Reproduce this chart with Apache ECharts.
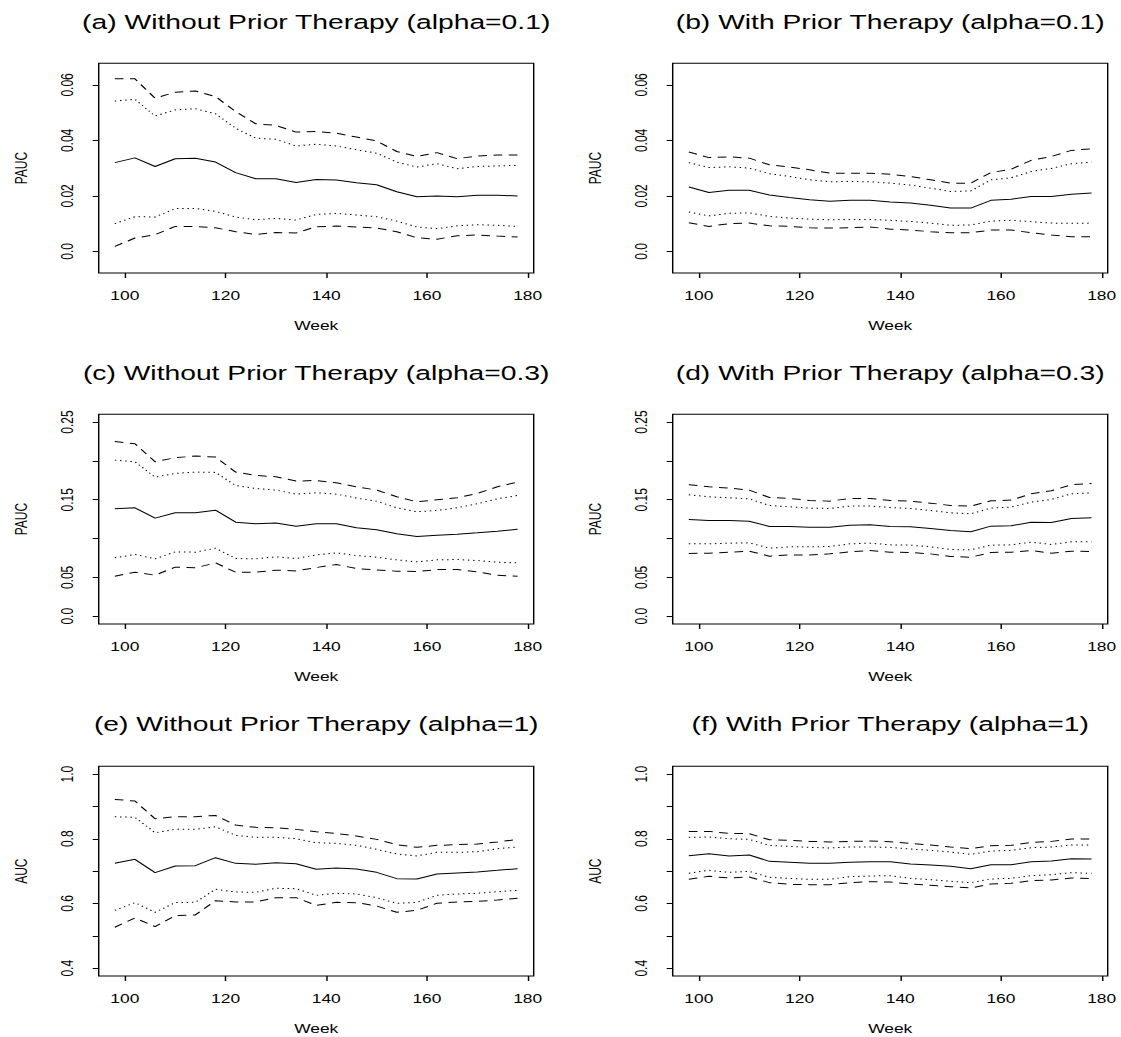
<!DOCTYPE html>
<html><head><meta charset="utf-8">
<script src="https://cdn.jsdelivr.net/npm/echarts@6/dist/echarts.min.js"></script>
<style>
html,body{margin:0;padding:0;background:#fff;overflow:hidden;width:1121px;height:1037px}
#chart{position:absolute;left:0;top:0;height:1037px;transform-origin:0 0;}
</style>
</head><body><div id="chart"></div>
<script>
// ---------------- data ----------------
const weeks = [98,102,106,110,114,118,122,126,130,134,138,142,146,150,154,158,162,166,170,174,178];

// (a) Without Prior Therapy, alpha=0.1
const a_dashHi = [0.0622,0.0622,0.0552,0.0574,0.0578,0.0558,0.0504,0.0460,0.0454,0.0430,0.0432,0.0426,0.0412,0.0398,0.0360,0.0342,0.0356,0.0334,0.0344,0.0347,0.0347];
const a_dotHi  = [0.0542,0.0548,0.0488,0.0510,0.0514,0.0496,0.0444,0.0408,0.0404,0.0380,0.0386,0.0380,0.0366,0.0354,0.0322,0.0304,0.0316,0.0298,0.0306,0.0308,0.0310];
const a_mid    = [0.0320,0.0337,0.0306,0.0334,0.0336,0.0322,0.0284,0.0262,0.0262,0.0248,0.0259,0.0257,0.0247,0.0240,0.0215,0.0197,0.0200,0.0197,0.0202,0.0202,0.0200];
const a_dotLo  = [0.0100,0.0125,0.0124,0.0154,0.0155,0.0144,0.0124,0.0114,0.0119,0.0113,0.0133,0.0137,0.0131,0.0125,0.0109,0.0088,0.0082,0.0092,0.0096,0.0094,0.0090];
const a_dashLo = [0.0018,0.0048,0.0060,0.0090,0.0090,0.0085,0.0071,0.0061,0.0068,0.0066,0.0089,0.0091,0.0088,0.0084,0.0071,0.0049,0.0044,0.0056,0.0059,0.0055,0.0052];

// (b) With Prior Therapy, alpha=0.1
const b_dashHi = [0.0358,0.0338,0.0341,0.0336,0.0312,0.0304,0.0294,0.0282,0.0282,0.0282,0.0278,0.0270,0.0258,0.0246,0.0246,0.0284,0.0296,0.0328,0.0342,0.0364,0.0370];
const b_dotHi  = [0.0320,0.0302,0.0305,0.0300,0.0280,0.0270,0.0258,0.0251,0.0252,0.0251,0.0246,0.0239,0.0228,0.0216,0.0218,0.0258,0.0265,0.0288,0.0299,0.0316,0.0322];
const b_mid    = [0.0232,0.0212,0.0220,0.0220,0.0203,0.0194,0.0186,0.0181,0.0184,0.0184,0.0178,0.0174,0.0166,0.0156,0.0156,0.0184,0.0188,0.0198,0.0198,0.0206,0.0210];
const b_dotLo  = [0.0142,0.0128,0.0137,0.0139,0.0126,0.0120,0.0116,0.0114,0.0115,0.0115,0.0112,0.0108,0.0102,0.0094,0.0095,0.0109,0.0112,0.0107,0.0102,0.0101,0.0102];
const b_dashLo = [0.0103,0.0090,0.0100,0.0102,0.0092,0.0090,0.0085,0.0084,0.0085,0.0088,0.0080,0.0077,0.0071,0.0067,0.0067,0.0077,0.0077,0.0067,0.0059,0.0053,0.0053];

// (c) Without Prior Therapy, alpha=0.3
const c_dashHi = [0.2251,0.2221,0.1989,0.2041,0.2062,0.2049,0.1856,0.1813,0.1796,0.1740,0.1748,0.1718,0.1667,0.1624,0.1538,0.1473,0.1499,0.1525,0.1581,0.1667,0.1727];
const c_dotHi  = [0.2010,0.1989,0.1791,0.1839,0.1856,0.1852,0.1684,0.1645,0.1624,0.1572,0.1590,0.1572,0.1521,0.1482,0.1396,0.1345,0.1362,0.1396,0.1448,0.1512,0.1555];
const c_mid    = [0.1383,0.1396,0.1263,0.1332,0.1332,0.1366,0.1211,0.1190,0.1199,0.1160,0.1190,0.1190,0.1138,0.1113,0.1061,0.1027,0.1044,0.1057,0.1074,0.1095,0.1121];
const c_dotLo  = [0.0752,0.0795,0.0739,0.0829,0.0825,0.0876,0.0743,0.0739,0.0765,0.0743,0.0790,0.0816,0.0782,0.0760,0.0726,0.0700,0.0726,0.0730,0.0717,0.0696,0.0687];
const c_dashLo = [0.0516,0.0567,0.0528,0.0632,0.0623,0.0687,0.0567,0.0567,0.0593,0.0584,0.0627,0.0666,0.0614,0.0597,0.0580,0.0576,0.0601,0.0601,0.0571,0.0528,0.0516];

// (d) With Prior Therapy, alpha=0.3
const d_dashHi = [0.1693,0.1667,0.1650,0.1624,0.1529,0.1516,0.1491,0.1482,0.1516,0.1516,0.1491,0.1482,0.1456,0.1426,0.1418,0.1486,0.1495,0.1577,0.1615,0.1693,0.1710];
const d_dotHi  = [0.1564,0.1538,0.1525,0.1512,0.1426,0.1409,0.1392,0.1388,0.1418,0.1418,0.1400,0.1388,0.1362,0.1332,0.1319,0.1392,0.1405,0.1469,0.1504,0.1577,0.1590];
const d_mid    = [0.1246,0.1233,0.1233,0.1224,0.1156,0.1156,0.1147,0.1147,0.1173,0.1177,0.1156,0.1151,0.1130,0.1104,0.1087,0.1160,0.1164,0.1211,0.1207,0.1259,0.1267];
const d_dotLo  = [0.0932,0.0932,0.0941,0.0945,0.0876,0.0894,0.0894,0.0898,0.0932,0.0941,0.0919,0.0915,0.0894,0.0859,0.0855,0.0915,0.0919,0.0954,0.0924,0.0958,0.0958];
const d_dashLo = [0.0808,0.0812,0.0825,0.0838,0.0773,0.0790,0.0790,0.0803,0.0829,0.0846,0.0825,0.0821,0.0803,0.0769,0.0760,0.0821,0.0825,0.0846,0.0812,0.0838,0.0833];

// (e) Without Prior Therapy, alpha=1
const e_dashHi = [0.9217,0.9166,0.8620,0.8682,0.8682,0.8723,0.8425,0.8353,0.8342,0.8291,0.8219,0.8167,0.8085,0.7982,0.7818,0.7735,0.7797,0.7818,0.7838,0.7900,0.7982];
const e_dotHi  = [0.8682,0.8661,0.8188,0.8291,0.8291,0.8373,0.8106,0.8044,0.8044,0.8003,0.7879,0.7859,0.7797,0.7674,0.7530,0.7468,0.7581,0.7581,0.7601,0.7694,0.7746];
const e_mid    = [0.7241,0.7365,0.6953,0.7159,0.7169,0.7416,0.7241,0.7210,0.7262,0.7231,0.7056,0.7097,0.7066,0.6963,0.6768,0.6758,0.6912,0.6943,0.6974,0.7025,0.7077];
const e_dotLo  = [0.5790,0.6027,0.5729,0.6027,0.6037,0.6439,0.6356,0.6346,0.6470,0.6459,0.6253,0.6315,0.6295,0.6181,0.6007,0.6037,0.6253,0.6295,0.6315,0.6367,0.6408];
const e_dashLo = [0.5266,0.5554,0.5286,0.5626,0.5646,0.6089,0.6048,0.6048,0.6181,0.6181,0.5945,0.6037,0.6027,0.5924,0.5729,0.5790,0.6007,0.6048,0.6068,0.6109,0.6161];

// (f) With Prior Therapy, alpha=1
const f_dashHi = [0.8229,0.8229,0.8167,0.8157,0.7972,0.7951,0.7920,0.7900,0.7920,0.7931,0.7910,0.7859,0.7807,0.7746,0.7694,0.7787,0.7797,0.7890,0.7920,0.7993,0.7993];
const f_dotHi  = [0.8044,0.8054,0.8003,0.7982,0.7797,0.7766,0.7735,0.7715,0.7746,0.7746,0.7735,0.7684,0.7643,0.7591,0.7519,0.7622,0.7643,0.7725,0.7746,0.7807,0.7807];
const f_mid    = [0.7478,0.7540,0.7468,0.7499,0.7303,0.7272,0.7241,0.7241,0.7272,0.7293,0.7293,0.7221,0.7190,0.7149,0.7077,0.7200,0.7200,0.7293,0.7313,0.7385,0.7375];
const f_dotLo  = [0.6933,0.7025,0.6963,0.6994,0.6809,0.6778,0.6747,0.6747,0.6830,0.6850,0.6860,0.6778,0.6737,0.6686,0.6645,0.6758,0.6778,0.6860,0.6891,0.6953,0.6933];
const f_dashLo = [0.6747,0.6840,0.6788,0.6819,0.6645,0.6593,0.6583,0.6583,0.6645,0.6675,0.6665,0.6603,0.6562,0.6521,0.6480,0.6603,0.6624,0.6706,0.6727,0.6788,0.6768];

// tick values and labels
const xTicks = [100,120,140,160,180];
const yTicksA = [0,0.02,0.04,0.06];
const yLabelsA = [0,0.02,0.04,0.06];
const yLabelTextA = ['0.0','0.02','0.04','0.06'];
const yTicksC = [0,0.05,0.10,0.15,0.20,0.25];
const yLabelsC = [0,0.05,0.15,0.25];
const yLabelTextC = ['0.0','0.05','0.15','0.25'];
const yTicksE = [0.4,0.5,0.6,0.7,0.8,0.9,1.0];
const yLabelsE = [0.4,0.6,0.8,1.0];
const yLabelTextE = ['0.4','0.6','0.8','1.0'];

const titles = [
  '(a) Without Prior Therapy (alpha=0.1)', '(b) With Prior Therapy (alpha=0.1)',
  '(c) Without Prior Therapy (alpha=0.3)', '(d) With Prior Therapy (alpha=0.3)',
  '(e) Without Prior Therapy (alpha=1)',   '(f) With Prior Therapy (alpha=1)'
];
const yNames = ['PAUC','PAUC','PAUC','PAUC','AUC','AUC'];

// ---------------- layout ----------------
const K = 1.45;                    // horizontal stretch of the reference figure
const FONT = 'Liberation Sans, Arial, Helvetica, sans-serif';
const colLeft = [98.7, 672.7], boxW = 435;
const rowTop = [63.3, 414.3, 766.3], boxH = 209.7;
const titleY = [23.5, 374.5, 725.5];

const el = document.getElementById('chart');
el.style.width = (1121 / K) + 'px';
el.style.transform = 'scaleX(' + K + ')';
const chart = echarts.init(el, null, {renderer: 'svg'});

const panels = [
  {lines:[a_dashHi,a_dotHi,a_mid,a_dotLo,a_dashLo], yr:[-0.0078,0.0678], t:yTicksA, l:yLabelsA, lt:yLabelTextA},
  {lines:[b_dashHi,b_dotHi,b_mid,b_dotLo,b_dashLo], yr:[-0.0078,0.0678], t:yTicksA, l:yLabelsA, lt:yLabelTextA},
  {lines:[c_dashHi,c_dotHi,c_mid,c_dotLo,c_dashLo], yr:[-0.01,0.26], t:yTicksC, l:yLabelsC, lt:yLabelTextC},
  {lines:[d_dashHi,d_dotHi,d_mid,d_dotLo,d_dashLo], yr:[-0.01,0.26], t:yTicksC, l:yLabelsC, lt:yLabelTextC},
  {lines:[e_dashHi,e_dotHi,e_mid,e_dotLo,e_dashLo], yr:[0.376,1.024], t:yTicksE, l:yLabelsE, lt:yLabelTextE},
  {lines:[f_dashHi,f_dotHi,f_mid,f_dotLo,f_dashLo], yr:[0.376,1.024], t:yTicksE, l:yLabelsE, lt:yLabelTextE}
];
const styles = [[6,4.5],[1,2.6],'solid',[1,2.6],[6,4.5]];

const grid = [], xAxis = [], yAxis = [], series = [], title = [];
panels.forEach((p, i) => {
  const c = i % 2, r = Math.floor(i / 2);
  const left = colLeft[c] / K, w = boxW / K;
  grid.push({left: left, top: rowTop[r], width: w, height: boxH, show: true,
    borderColor: '#000', borderWidth: 1, backgroundColor: 'transparent', containLabel: false});
  title.push({text: titles[i], left: (colLeft[c] + boxW / 2) / K, top: titleY[r] - 11, textAlign: 'center', padding: 0,
    textStyle: {fontSize: 19.5, fontWeight: 'normal', color: '#000', fontFamily: FONT}});
  xAxis.push({type: 'value', gridIndex: i, min: 94.8, max: 181.2, position: 'bottom',
    name: 'Week', nameLocation: 'middle', nameGap: 47,
    nameTextStyle: {fontSize: 12, color: '#000', fontFamily: FONT},
    axisLine: {show: false, onZero: false},
    axisTick: {show: true, inside: false, customValues: xTicks, length: 5, lineStyle: {color: '#000', width: 1}},
    axisLabel: {customValues: xTicks, margin: 17, fontSize: 12, color: '#000', fontFamily: FONT},
    splitLine: {show: false}});
  yAxis.push({type: 'value', gridIndex: i, min: p.yr[0], max: p.yr[1], position: 'left',
    name: yNames[i], nameLocation: 'middle', nameGap: 48,
    nameTextStyle: {fontSize: 12, color: '#000', fontFamily: FONT},
    axisLine: {show: false, onZero: false},
    axisTick: {show: true, inside: false, customValues: p.t, length: 6 / K, lineStyle: {color: '#000', width: 1}},
    axisLabel: {customValues: p.l, rotate: 90, margin: 16, fontSize: 12, color: '#000', fontFamily: FONT,
      formatter: v => { const k = p.l.findIndex(x => Math.abs(x - v) < 1e-9); return k >= 0 ? p.lt[k] : ''; }},
    splitLine: {show: false}});
  p.lines.forEach((vals, j) => {
    series.push({type: 'line', xAxisIndex: i, yAxisIndex: i, showSymbol: false, silent: true,
      data: weeks.map((wk, n) => [wk, vals[n]]),
      lineStyle: {color: '#000', width: 1, type: styles[j]}});
  });
});

chart.setOption({animation: false, backgroundColor: '#fff', title, grid, xAxis, yAxis, series});
</script>
</body></html>
